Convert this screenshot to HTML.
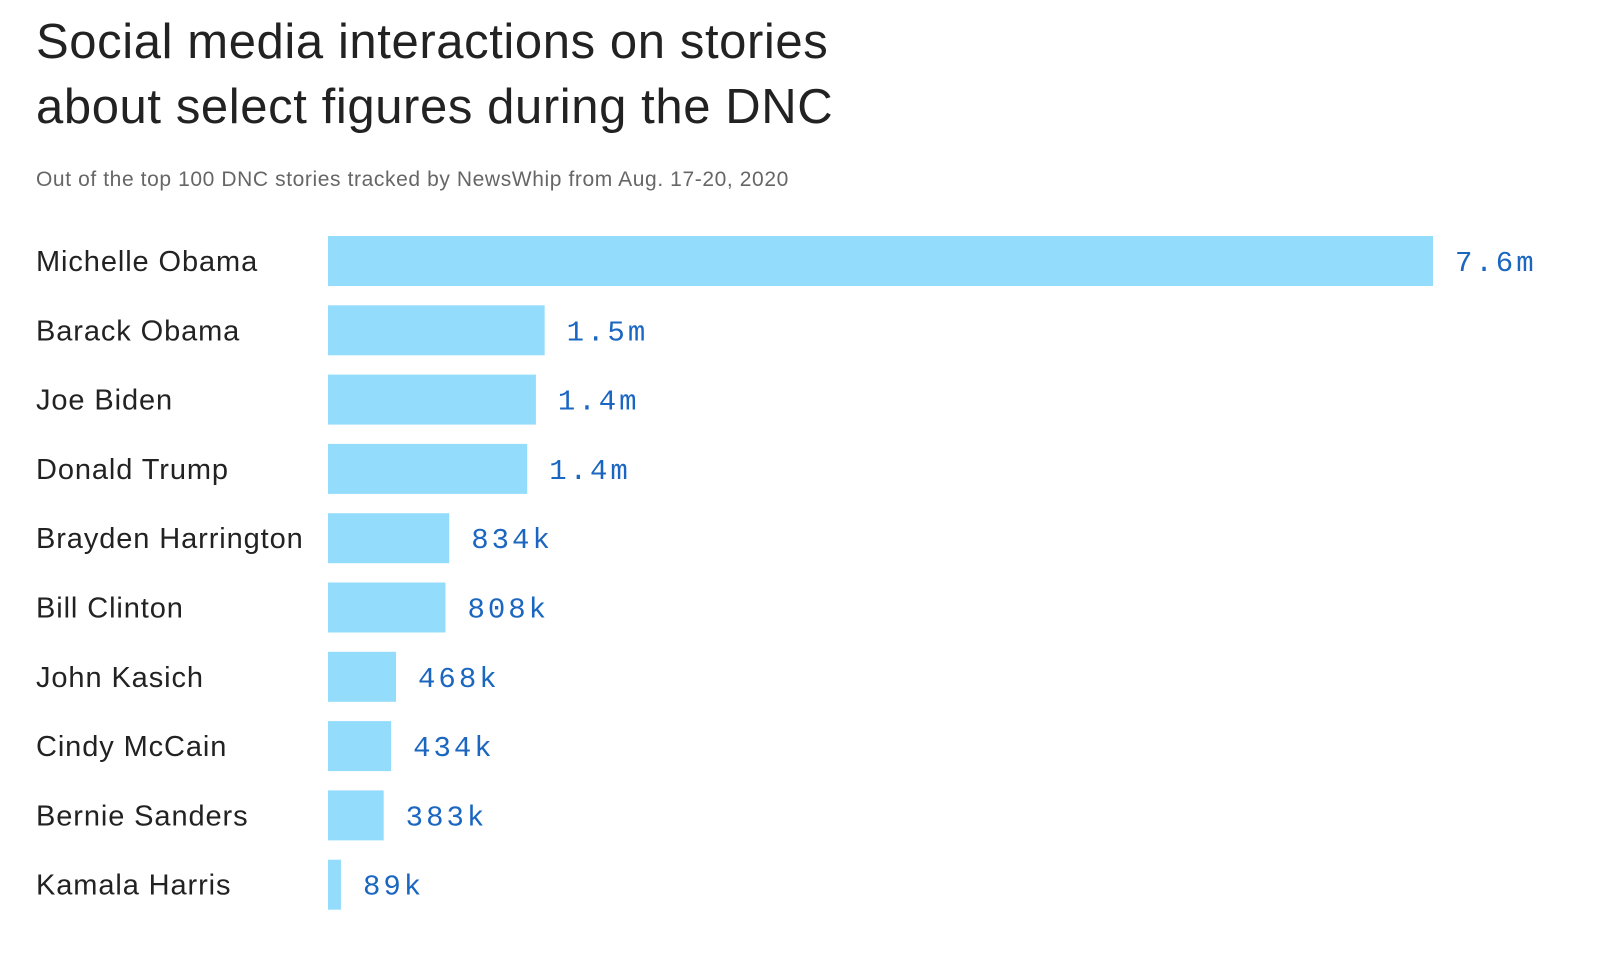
<!DOCTYPE html>
<html><head><meta charset="utf-8"><style>
body{margin:0;background:#fff;width:1600px;height:957px;overflow:hidden;font-family:"Liberation Sans",sans-serif}
h1{position:absolute;left:36px;top:10px;margin:0;font-weight:400;font-size:49px;line-height:65px;color:#222;letter-spacing:0.6px}
.sub{position:absolute;left:36px;top:168px;font-size:21px;color:#666;letter-spacing:0.6px}
svg{position:absolute;left:0;top:0}
</style></head><body>
<h1>Social media interactions on stories<br>about select figures during the DNC</h1>
<div class="sub">Out of the top 100 DNC stories tracked by NewsWhip from Aug. 17-20, 2020</div>
<svg id="chart" width="1600" height="957"></svg>
<script>
const categories=["Michelle Obama","Barack Obama","Joe Biden","Donald Trump","Brayden Harrington","Bill Clinton","John Kasich","Cindy McCain","Bernie Sanders","Kamala Harris"];
const values=[7.6,1.49,1.43,1.37,0.834,0.808,0.468,0.434,0.383,0.089];
const valueLabels=["7.6m","1.5m","1.4m","1.4m","834k","808k","468k","434k","383k","89k"];
const svg=document.getElementById('chart');
const NS='http://www.w3.org/2000/svg';
const x0=328, maxW=1105, maxV=Math.max(...values);
const xs=v=>v/maxV*maxW;
const y0=236, step=69.3, bh=50;
categories.forEach((c,i)=>{
  const y=y0+i*step;
  const t=document.createElementNS(NS,'text');
  
  
  t.setAttribute('x',36);t.setAttribute('y',y+bh/2+10);
  t.setAttribute('font-size','29');t.setAttribute('fill','#222');
  t.setAttribute('letter-spacing','0.9');
  t.setAttribute('font-family','Liberation Sans, sans-serif');
  t.textContent=c;svg.appendChild(t);
  const w=Math.max(xs(values[i]),1);
  const r=document.createElementNS(NS,'rect');
  
  
  r.setAttribute('x',x0);r.setAttribute('y',y);r.setAttribute('width',w);r.setAttribute('height',bh);
  r.setAttribute('fill','#94dcfc');svg.appendChild(r);
  const l=document.createElementNS(NS,'text');
  
  
  l.setAttribute('x',x0+w+22);l.setAttribute('y',y+bh/2+10);
  l.setAttribute('font-size','29');l.setAttribute('fill','#1a66c0');
  l.setAttribute('letter-spacing','3');
  l.setAttribute('font-family','Liberation Mono, monospace');
  l.textContent=valueLabels[i];svg.appendChild(l);
});
</script>
</body></html>
